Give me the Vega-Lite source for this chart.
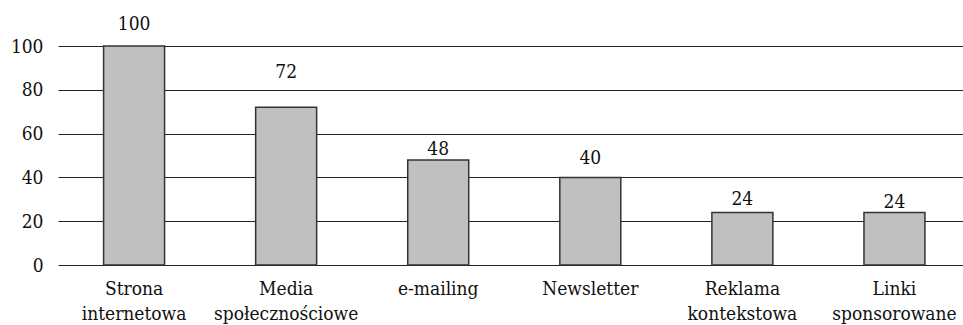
{
  "$schema": "https://vega.github.io/schema/vega-lite/v6.json",
  "autosize": "none",
  "width": 905,
  "height": 219,
  "padding": {"left": 58, "top": 46, "right": 0, "bottom": 60},
  "background": "white",
  "config": {
    "view": {"stroke": null},
    "axis": {"labelColor": "#111", "labelFontSize": 19, "labelFont": "DejaVu Serif Condensed", "labelLimit": 300},
    "text": {"font": "DejaVu Serif Condensed", "fontSize": 19, "color": "#111", "baseline": "alphabetic"}
  },
  "data": {
    "values": [
      {"kanal": "Strona internetowa", "wartosc": 100},
      {"kanal": "Media społecznościowe", "wartosc": 72},
      {"kanal": "e-mailing", "wartosc": 48},
      {"kanal": "Newsletter", "wartosc": 40},
      {"kanal": "Reklama kontekstowa", "wartosc": 24},
      {"kanal": "Linki sponsorowane", "wartosc": 24}
    ]
  },
  "encoding": {
    "x": {
      "field": "kanal",
      "type": "nominal",
      "sort": null,
      "scale": {"paddingInner": 0.599, "paddingOuter": 0.275, "align": 0.545},
      "axis": {
        "title": null,
        "domain": false,
        "ticks": false,
        "labelAngle": 0,
        "labelPadding": 14,
        "labelLineHeight": 25,
        "labelExpr": "split(datum.label, ' ')"
      }
    },
    "y": {
      "field": "wartosc",
      "type": "quantitative",
      "scale": {"domain": [0, 100], "nice": false},
      "axis": {
        "title": null,
        "domain": false,
        "ticks": false,
        "values": [0, 20, 40, 60, 80, 100],
        "grid": true,
        "gridColor": "#222",
        "gridWidth": 1.2,
        "labelPadding": 15
      }
    },
    "text": {"field": "wartosc", "type": "quantitative"}
  },
  "layer": [
    {
      "mark": {"type": "bar", "fill": "#c0c0c0", "stroke": "#333", "strokeWidth": 1.5}
    },
    {
      "transform": [{"filter": "datum.kanal === 'Strona internetowa'"}],
      "mark": {"type": "text", "dy": -16}
    },
    {
      "transform": [{"filter": "datum.kanal === 'Media społecznościowe'"}],
      "mark": {"type": "text", "dy": -29}
    },
    {
      "transform": [{"filter": "datum.kanal === 'e-mailing'"}],
      "mark": {"type": "text", "dy": -5}
    },
    {
      "transform": [{"filter": "datum.kanal === 'Newsletter'"}],
      "mark": {"type": "text", "dy": -13}
    },
    {
      "transform": [{"filter": "datum.kanal === 'Reklama kontekstowa'"}],
      "mark": {"type": "text", "dy": -7}
    },
    {
      "transform": [{"filter": "datum.kanal === 'Linki sponsorowane'"}],
      "mark": {"type": "text", "dy": -4.5}
    }
  ]
}
